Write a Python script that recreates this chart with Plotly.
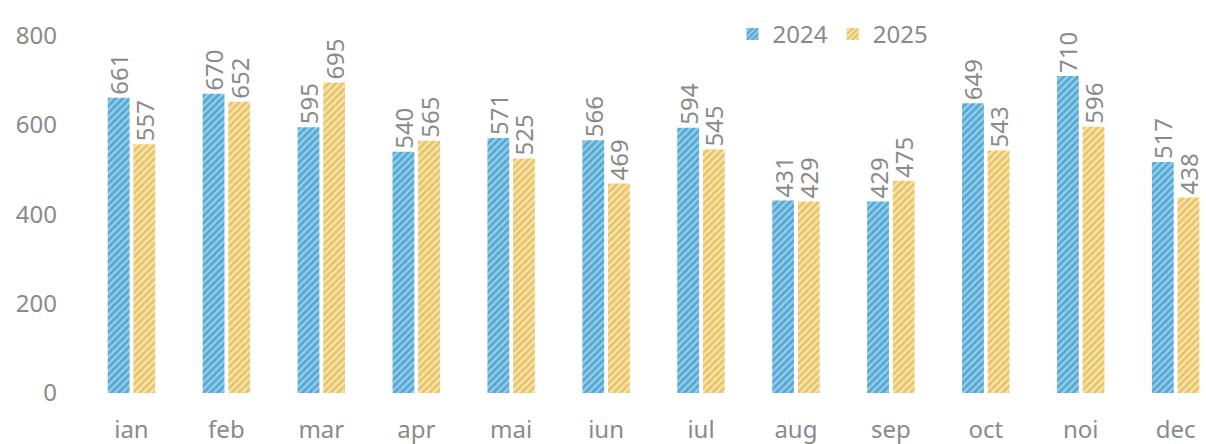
import plotly.graph_objects as go

months = ["ian", "feb", "mar", "apr", "mai", "iun", "iul", "aug", "sep", "oct", "noi", "dec"]
v2024 = [661, 670, 595, 540, 571, 566, 594, 431, 429, 649, 710, 517]
v2025 = [557, 652, 695, 565, 525, 469, 545, 429, 475, 543, 596, 438]
y_ticks = [0, 200, 400, 600, 800]

FONT = "Noto Sans"
GREY = "#8a8a8a"
FS = 24

fig = go.Figure()
fig.add_trace(go.Bar(
    x=months, y=v2024, name="2024",
    width=0.23, offset=-0.25,
    marker=dict(color="#8ad0f0", line=dict(width=0),
                pattern=dict(shape="/", fgcolor="#2a78aa", bgcolor="#8fd2f2", size=5, solidity=0.55)),
    text=[str(v) for v in v2024], textposition="outside", textangle=-90,
    constraintext="none",
    textfont=dict(family=FONT, size=FS, color=GREY), cliponaxis=False,
))
fig.add_trace(go.Bar(
    x=months, y=v2025, name="2025",
    width=0.23, offset=0.02,
    marker=dict(color="#fae3a0", line=dict(width=0),
                pattern=dict(shape="/", fgcolor="#cf9f38", bgcolor="#fbe6a6", size=5, solidity=0.55)),
    text=[str(v) for v in v2025], textposition="outside", textangle=-90,
    constraintext="none",
    textfont=dict(family=FONT, size=FS, color=GREY), cliponaxis=False,
))

fig.update_layout(
    width=1206, height=444,
    margin=dict(l=84, r=0, t=10, b=51),
    paper_bgcolor="white", plot_bgcolor="white",
    barmode="group",
    font=dict(family=FONT, size=FS, color=GREY),
    showlegend=True,
    legend=dict(orientation="h", x=0.578, y=0.995, xanchor="left", yanchor="top",
                font=dict(family=FONT, size=FS, color=GREY),
                bgcolor="rgba(0,0,0,0)", itemwidth=30, tracegroupgap=0),
)
fig.update_xaxes(range=[-0.5, 11.32], showgrid=False, showline=False, zeroline=False,
                 ticks="", ticklabelstandoff=20, automargin=False,
                 tickfont=dict(family=FONT, size=FS, color=GREY))
fig.update_yaxes(range=[0, 857.6], tickvals=y_ticks, showgrid=False, showline=False,
                 zeroline=False, ticks="", ticklabelstandoff=26, automargin=False,
                 tickfont=dict(family=FONT, size=FS, color=GREY))

fig.write_html("out.html", config={"displayModeBar": False},
               post_script="document.body.style.margin='0';document.body.style.overflow='hidden';")
